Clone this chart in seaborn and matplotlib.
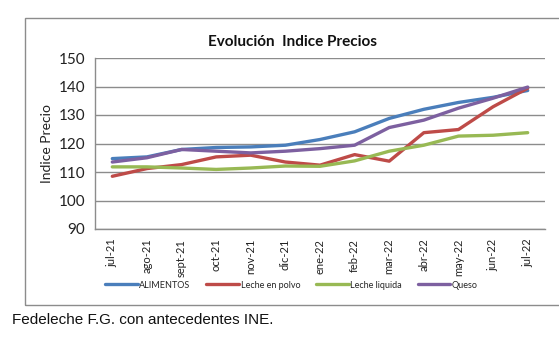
import matplotlib
matplotlib.use("Agg")
import matplotlib.pyplot as plt
from matplotlib.patches import Rectangle
from matplotlib.ticker import FixedLocator, NullFormatter
import seaborn as sns
import pandas as pd

meses = ["jul-21", "ago-21", "sept-21", "oct-21", "nov-21", "dic-21", "ene-22",
         "feb-22", "mar-22", "abr-22", "may-22", "jun-22", "jul-22"]
alimentos = [114.7, 115.3, 117.9, 118.6, 118.8, 119.4, 121.4, 124.1, 128.8, 132.0, 134.4, 136.2, 138.6]
leche_polvo = [108.5, 111.2, 112.6, 115.3, 115.9, 113.5, 112.4, 116.1, 113.8, 123.8, 124.9, 132.9, 139.4]
leche_liquida = [111.8, 111.8, 111.4, 110.9, 111.4, 112.1, 112.0, 113.9, 117.3, 119.4, 122.6, 122.9, 123.8]
queso = [113.5, 115.0, 117.9, 117.3, 116.7, 117.3, 118.2, 119.4, 125.6, 128.2, 132.4, 135.9, 139.8]

series = {
    "ALIMENTOS": alimentos,
    "Leche en polvo": leche_polvo,
    "Leche liquida": leche_liquida,
    "Queso": queso,
}
colores = ["#4A7EBB", "#BE4B48", "#98B954", "#7D60A0"]

df = pd.DataFrame(
    [(m, nombre, v) for nombre, vals in series.items() for m, v in zip(meses, vals)],
    columns=["mes", "serie", "indice"],
)
df["pos"] = df["mes"].map({m: i for i, m in enumerate(meses)})

sns.set_style("white")
plt.rcParams["font.family"] = ["Lato", "DejaVu Sans"]

W, H = 559, 347
fig = plt.figure(figsize=(W / 100, H / 100), dpi=100)
ax = fig.add_axes([95 / W, 1 - 229 / H, 450 / W, (229 - 58) / H])

sns.lineplot(data=df, x="pos", y="indice", hue="serie", palette=colores,
             linewidth=2.4, ax=ax, legend=False)

ax.set_ylim(90, 150)
ax.set_yticks(range(90, 151, 10))
ax.set_xlim(-0.5, len(meses) - 0.5)
ax.set_xticks(range(len(meses)))
ax.set_xticklabels(meses, rotation=90, fontsize=8, color="#222222")
ax.xaxis.set_minor_locator(FixedLocator([i - 0.5 for i in range(len(meses) + 1)]))
ax.xaxis.set_minor_formatter(NullFormatter())
ax.tick_params(axis="x", which="major", length=0, pad=7)
ax.tick_params(axis="x", which="minor", length=4, color="#8c8c8c", width=0.8, direction="out")
ax.tick_params(axis="y", length=4, color="#8c8c8c", width=0.8, direction="out",
               labelsize=11, pad=3, labelcolor="#222222")

ax.grid(axis="y", color="#8c8c8c", linewidth=1.0)
ax.set_axisbelow(True)
for s in ["top", "right"]:
    ax.spines[s].set_visible(False)
for s in ["left", "bottom"]:
    ax.spines[s].set_color("#8c8c8c")
    ax.spines[s].set_linewidth(1.0)

ax.set_xlabel("")
ax.set_ylabel("Indice Precio", fontsize=10, color="#222222", labelpad=4)

fig.text(293 / W, 1 - 42 / H, "Evolución  Indice Precios", ha="center", va="center",
         fontsize=11, fontweight="bold", color="#111111")

# chart frame
fig.patches.append(Rectangle((25 / W, 1 - 305 / H), 1.0, (305 - 18) / H,
                             transform=fig.transFigure, fill=False,
                             edgecolor="#8c8c8c", linewidth=1.0))

handles = [plt.Line2D([], [], color=c, linewidth=2.4) for c in colores]
fig.legend(handles, list(series.keys()), loc="center left",
           bbox_to_anchor=(105 / W, 1 - 285 / H), ncol=4, frameon=False,
           fontsize=6.5, handlelength=3.6, handletextpad=0.2, columnspacing=1.75,
           borderpad=0, borderaxespad=0)

fig.text(12 / W, 1 - 320 / H, "Fedeleche F.G. con antecedentes INE.",
         ha="left", va="center", fontsize=11, family=["Liberation Sans", "DejaVu Sans"],
         color="#111111")

fig.savefig("out.png", dpi=100, facecolor="white")
